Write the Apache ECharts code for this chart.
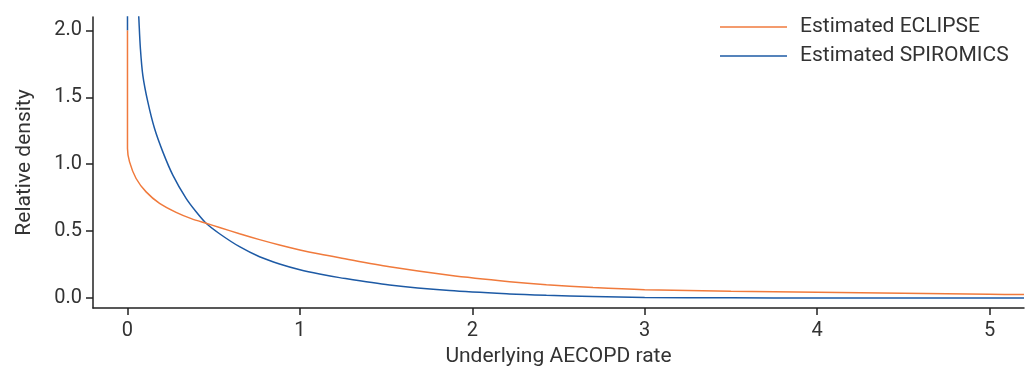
<!DOCTYPE html>
<html>
<head>
<meta charset="utf-8">
<script src="https://cdn.jsdelivr.net/npm/echarts@6/dist/echarts.min.js"></script>
<style>
  html, body { margin: 0; padding: 0; background: #fff; }
  #chart { width: 1033px; height: 368px; }
</style>
</head>
<body>
<div id="chart"></div>
<script>
// Estimated ECLIPSE (orange)
const eclipseX = [0, 0, 0.012, 0.05, 0.108, 0.186, 0.282, 0.37, 0.456, 0.534, 0.65, 0.766, 0.882, 1.0, 1.114, 1.23, 1.52, 1.868, 2.216, 2.43, 2.7, 3.0, 3.5, 4.0, 4.5, 5.0, 5.2];
const eclipseY = [2.0, 1.117, 1.017, 0.893, 0.793, 0.707, 0.64, 0.593, 0.558, 0.527, 0.48, 0.436, 0.396, 0.359, 0.328, 0.30, 0.233, 0.17, 0.122, 0.099, 0.078, 0.062, 0.05, 0.042, 0.035, 0.028, 0.025];

// Estimated SPIROMICS (blue) - runs off the top near zero
const spiroX = [0, 0, 0.062, 0.066, 0.075, 0.089, 0.118, 0.157, 0.205, 0.263, 0.34, 0.398, 0.456, 0.534, 0.65, 0.766, 0.882, 1.0, 1.114, 1.23, 1.52, 1.868, 2.216, 2.43, 2.7, 3.0, 3.5, 4.0, 5.2];
const spiroY = [2.0, 20, 2.2, 2.087, 1.863, 1.664, 1.465, 1.266, 1.092, 0.918, 0.744, 0.644, 0.558, 0.48, 0.383, 0.308, 0.254, 0.211, 0.179, 0.152, 0.097, 0.055, 0.03, 0.02, 0.011, 0.004, 0.001, 0, 0];

const xTicks = [0, 1, 2, 3, 4, 5];
const yTicks = [0, 0.5, 1.0, 1.5, 2.0];

const zip = (xs, ys) => xs.map((x, i) => [x, ys[i]]);

const textColor = "#333";
const axisColor = "#222";
const font = "Roboto, 'DejaVu Sans', sans-serif";
const orange = "#f07a3c";
const blue = "#1d5aa5";

const chart = echarts.init(document.getElementById("chart"));
chart.setOption({
  animation: false,
  textStyle: { fontFamily: font },
  grid: { left: 93, right: 9, top: 17, bottom: 60, outerBoundsMode: "none", containLabel: false },
  legend: {
    orient: "vertical",
    left: 720,
    top: 15,
    padding: 0,
    icon: "rect",
    itemWidth: 67,
    itemHeight: 1.5,
    itemGap: 5,
    textStyle: { fontSize: 21, lineHeight: 24, color: textColor, fontFamily: font, padding: [0, 0, 0, 8] },
    data: ["Estimated ECLIPSE", "Estimated SPIROMICS"],
  },
  xAxis: {
    type: "value",
    min: -0.2,
    max: 5.2,
    name: "Underlying AECOPD rate",
    nameLocation: "middle",
    nameGap: 38,
    nameTextStyle: { fontSize: 21, color: textColor },
    axisLine: { show: true, onZero: false, lineStyle: { color: axisColor, width: 1.5 } },
    axisTick: { show: true, length: 7, customValues: xTicks, lineStyle: { color: axisColor, width: 1.5 } },
    axisLabel: { customValues: xTicks, fontSize: 20, color: textColor, margin: 13 },
    splitLine: { show: false },
  },
  yAxis: {
    type: "value",
    min: -0.075,
    max: 2.1,
    name: "Relative density",
    nameLocation: "middle",
    nameGap: 58,
    nameTextStyle: { fontSize: 21, color: textColor },
    axisLine: { show: true, onZero: false, lineStyle: { color: axisColor, width: 1.5 } },
    axisTick: { show: true, length: 7, customValues: yTicks, lineStyle: { color: axisColor, width: 1.5 } },
    axisLabel: {
      customValues: yTicks,
      fontSize: 20,
      color: textColor,
      margin: 11,
      formatter: (v) => v.toFixed(1),
    },
    splitLine: { show: false },
  },
  series: [
    {
      name: "Estimated SPIROMICS",
      type: "line",
      symbol: "none",
      smooth: 0.3,
      z: 2,
      lineStyle: { color: blue, width: 1.5 },
      itemStyle: { color: blue },
      data: zip(spiroX, spiroY),
    },
    {
      name: "Estimated ECLIPSE",
      type: "line",
      symbol: "none",
      smooth: 0.3,
      z: 3,
      lineStyle: { color: orange, width: 1.5 },
      itemStyle: { color: orange },
      data: zip(eclipseX, eclipseY),
    },
  ],
});
</script>
</body>
</html>
